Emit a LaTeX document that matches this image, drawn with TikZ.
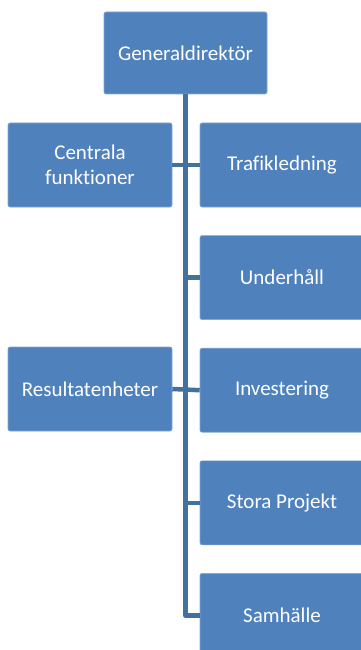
\documentclass[tikz,border=0pt]{standalone}
\usepackage{fontspec}
\setmainfont{Carlito}[Ligatures=NoCommon]
\usepackage{tikz}
\usetikzlibrary{positioning}
\definecolor{boxblue}{HTML}{4F81BD}
\definecolor{lineblue}{HTML}{41719C}
\tikzset{
  orgbox/.style={rectangle, rounded corners=2pt, fill=boxblue, draw=boxblue!70!white,
    line width=0.6pt, text=white, minimum width=164pt, minimum height=84pt,
    align=center, inner sep=2pt, font=\fontsize{21}{25}\selectfont},
  orgline/.style={draw=lineblue, line width=4.5pt}
}

\begin{document}
\begin{tikzpicture}[x=1pt,y=-1pt]
    \useasboundingbox (0,0) rectangle (360,650);
    % top
    \node[orgbox, minimum width=163pt, minimum height=82pt] (gd) at (185.5,53) {Generaldirektör};
    % right column
    \node[orgbox] (trafik) at (282,165) {Trafikledning};
    \node[orgbox, below=28pt of trafik] (underhall) {Underhåll};
    \node[orgbox, below=28pt of underhall] (invest) {Investering};
    \node[orgbox, below=28pt of invest] (stora) {Stora Projekt};
    \node[orgbox, below=28pt of stora] (samhalle) {Samhälle};
    % left column
    \node[orgbox] (central) at (90,165) {Centrala\\funktioner};
    \node[orgbox] (result) at (90,389) {Resultatenheter};
    % connectors
    \coordinate (corner) at (gd.south |- samhalle.west);
    \draw[orgline, line join=round] (gd.south) -- (corner) -- (samhalle.west);
    \draw[orgline] (central.east) -- (trafik.west);
    \draw[orgline] (result.east) -- (invest.west);
    \draw[orgline] (underhall.west) -- (underhall.west -| gd.south);
    \draw[orgline] (stora.west) -- (stora.west -| gd.south);
\end{tikzpicture}
\end{document}
